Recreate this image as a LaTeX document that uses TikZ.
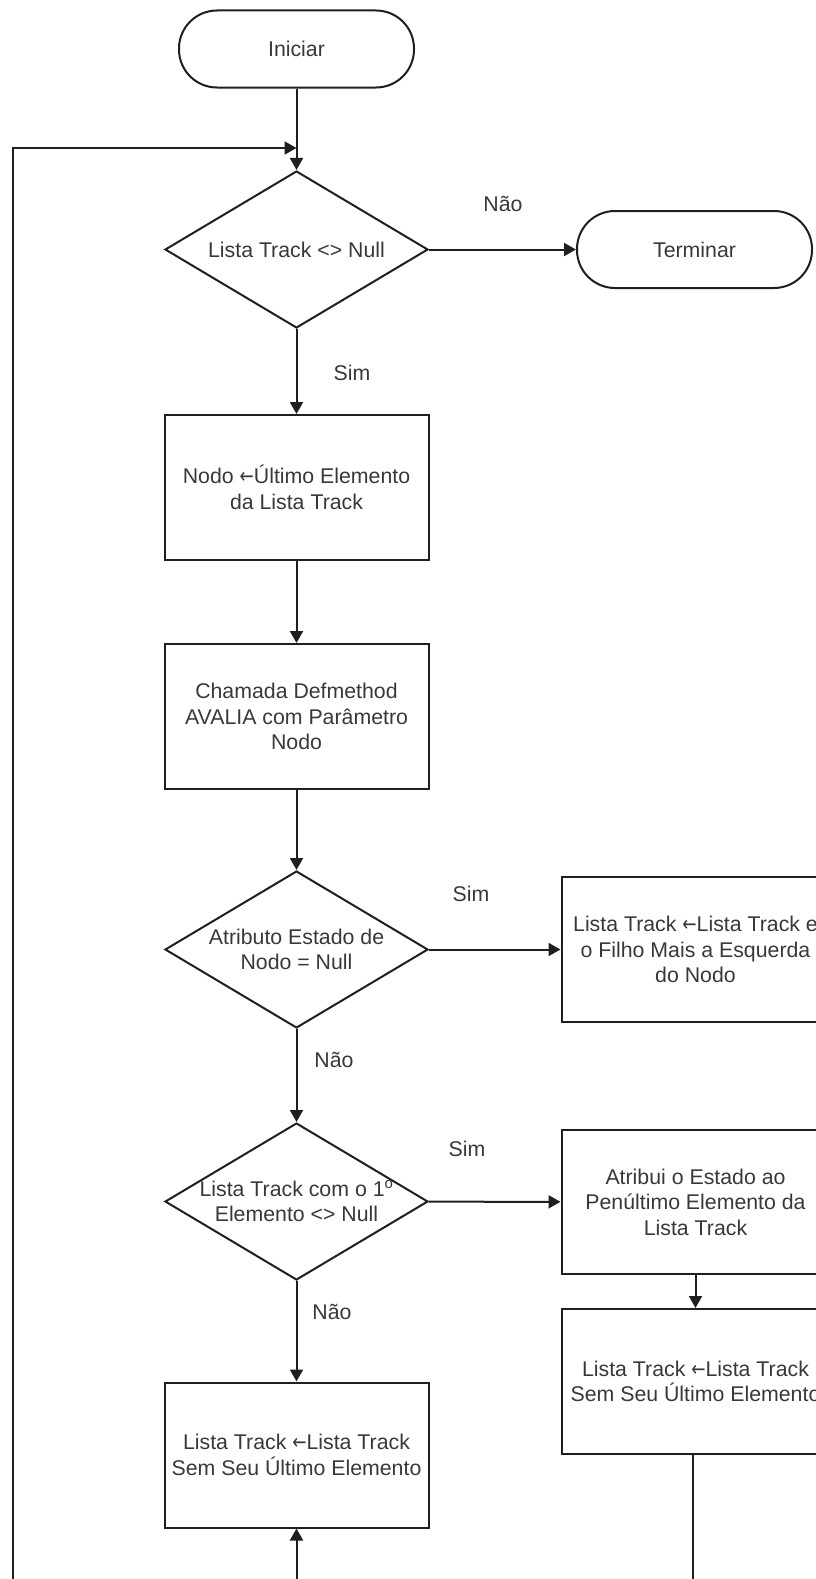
\documentclass[tikz,border=0pt]{standalone}
\usepackage{fontspec}
\setmainfont{Liberation Sans}
\newfontfamily\arrowglyph{DejaVu Sans}
\usetikzlibrary{shapes.geometric,arrows.meta}

% assignment arrow, drawn at text height
\newcommand{\getsarrow}{{\arrowglyph\scalebox{0.8}[1]{←}}}

\begin{document}
\begin{tikzpicture}[x=1pt,y=-1pt,
  every node/.style={font=\fontsize{21.3}{25.5}\selectfont, text=black!78},
  line/.style={draw=black!88, line width=2pt},
  flow/.style={line, -{Triangle[length=12pt,width=13pt]}},
  terminal/.style={line, rectangle, rounded corners=38pt, minimum width=235pt,
    minimum height=77pt, inner sep=0pt},
  process/.style={line, rectangle, minimum width=264pt, minimum height=145pt,
    inner sep=0pt, align=center},
  decision/.style={line, diamond, minimum width=263pt, minimum height=157pt,
    inner sep=0pt},
  caption/.style={align=center, inner sep=0pt},
  answer/.style={inner sep=0pt}
]
\useasboundingbox (0,0) rectangle (816,1579);
\clip (0,0) rectangle (816,1579);

% start / stop
\node[terminal] (start) at (296.5,49) {Iniciar};
\node[terminal] (stop)  at (694.5,249.5) {Terminar};

% main column
\node[decision] (d1) at (296.5,249.5) {};
\node[caption]  (d1t) at (d1.center) {Lista Track <> Null};

\node[process] (p1) at (296.5,487.5) {Nodo \getsarrow Último Elemento\\da Lista Track};
\node[process] (p2) at (296.5,716.5) {Chamada Defmethod\\AVALIA com Parâmetro\\Nodo};

\node[decision] (d2) at (296.5,949.5) {};
\node[caption]  (d2t) at (d2.center) {Atributo Estado de\\Nodo = Null};

\node[decision] (d3) at (296.5,1201.5) {};
\node[caption]  (d3t) at (d3.center) {Lista Track com o 1\textsuperscript{o}\\Elemento <> Null};

\node[process] (p3) at (296.5,1455) {Lista Track \getsarrow Lista Track\\Sem Seu Último Elemento};

% right column
\node[process, minimum width=268pt] (r1) at (695.5,949.5)
  {Lista Track \getsarrow Lista Track e\\o Filho Mais a Esquerda\\do Nodo};
\node[process, minimum width=268pt, minimum height=144pt] (r2) at (695.5,1202)
  {Atribui o Estado ao\\Penúltimo Elemento da\\Lista Track};
\node[process, minimum width=268pt] (r3) at (695.5,1381.5)
  {Lista Track \getsarrow Lista Track\\Sem Seu Último Elemento};

% loop-back and open ends
\coordinate (join)     at (296.5,148);
\coordinate (loopfoot) at (13,1600);
\coordinate (p3foot)   at (296.5,1600);
\coordinate (r3foot)   at (693,1600);

% connectors
\draw[flow] (start) -- (d1);
\draw[flow] (loopfoot) |- (join);
\draw[flow] (d1) -- (stop);
\draw[flow] (d1) -- (p1);
\draw[flow] (p1) -- (p2);
\draw[flow] (p2) -- (d2);
\draw[flow] (d2) -- (r1);
\draw[flow] (d2) -- (d3);
\draw[flow] (d3) -- (r2);
\draw[flow] (r2) -- (r3);
\draw[flow] (d3) -- (p3);
\draw[flow] (p3foot) -- (p3);
\draw[line] (r3.south -| r3foot) -- (r3foot);

% branch answers
\node[answer] (a1) at (503,204)  {Não};
\node[answer] (a2) at (352,373)  {Sim};
\node[answer] (a3) at (471,894)  {Sim};
\node[answer] (a4) at (334,1060) {Não};
\node[answer] (a5) at (467,1149) {Sim};
\node[answer] (a6) at (332,1312) {Não};
\end{tikzpicture}
\end{document}
